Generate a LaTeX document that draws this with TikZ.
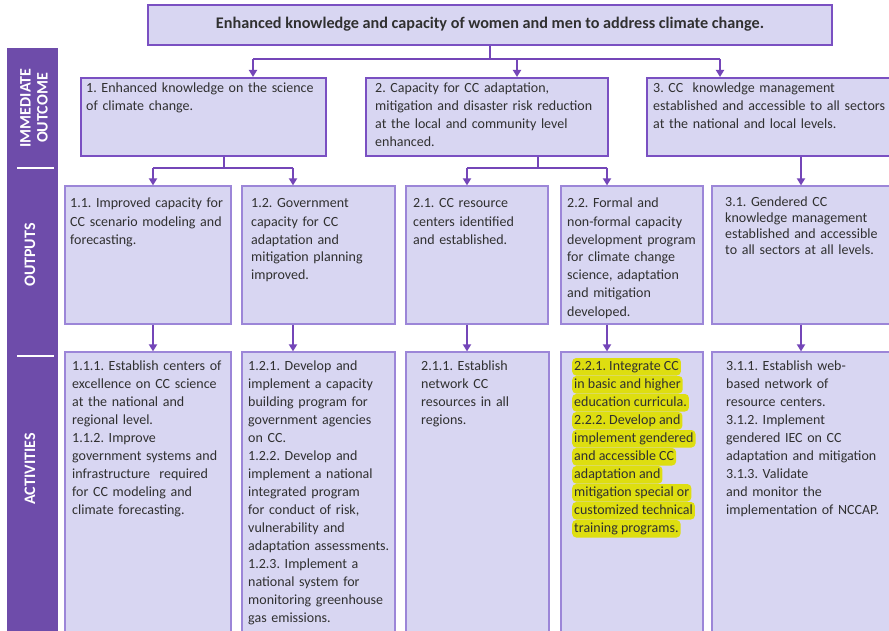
\documentclass[tikz,border=0pt]{standalone}
\usepackage{fontspec}
\setmainfont{Carlito}
\frenchspacing
\usetikzlibrary{fit,arrows.meta}
\definecolor{sidec}{HTML}{6E4CAA}
\definecolor{boxfill}{HTML}{D8D6F2}
\definecolor{obord}{HTML}{7A50C2}
\definecolor{lbord}{HTML}{9C86D8}
\definecolor{connc}{HTML}{7446B8}
\definecolor{txtc}{HTML}{303030}
\definecolor{hly}{HTML}{DEDE10}
\tikzset{
  obox/.style={draw=obord, line width=2pt, fill=boxfill, inner sep=0pt},
  lbox/.style={draw=lbord, line width=1.2pt, fill=boxfill, inner sep=0pt},
  sidebar/.style={fill=sidec, inner sep=0pt},
  txt/.style={text=txtc, inner sep=0pt, anchor=base west, align=left, text width=#1,
    font=\fontsize{14}{18}\selectfont},
  txt/.default=260pt,
  sidetxt/.style={text=white, inner sep=0pt, rotate=90, align=center,
    font=\fontsize{16}{17}\selectfont\bfseries},
  conn/.style={draw=connc, line width=1.8pt},
  arr/.style={conn, -{Triangle[width=8pt,length=7pt]}},
  hl/.style={fill=hly, rounded corners=4pt, inner xsep=2pt, inner ysep=2pt,
    anchor=base west, text=txtc, text height=10pt, text depth=3.5pt,
    font=\fontsize{14}{18}\selectfont},
}
\begin{document}
\begin{tikzpicture}[x=1pt,y=-1pt]
\useasboundingbox (0,0) rectangle (889,631);
\clip (0,0) rectangle (889,631);
\fill[white] (0,0) rectangle (889,631);
% sidebar
\node[sidebar, fit={(7,48) (58,640)}] (side) {};
\draw[white, line width=1.5pt] (17,168) -- (54,168);
\draw[white, line width=1.5pt] (17,356) -- (54,356);
\node[sidetxt] (s1) at (34,108) {IMMEDIATE\\OUTCOME};
\node[sidetxt] (s2) at (30,255) {OUTPUTS};
\node[sidetxt] (s3) at (30,469) {ACTIVITIES};
% boxes
\node[obox, line width=2.5pt, fit={(148,5) (832,45)}] (top) {};
\node[obox, fit={(81,78) (326,156)}] (o1) {};
\node[obox, fit={(366,78) (608,156)}] (o2) {};
\node[obox, fit={(647,78) (895,156)}] (o3) {};
\node[lbox, fit={(65,186) (231,324)}] (p11) {};
\node[lbox, fit={(242,186) (395,324)}] (p12) {};
\node[lbox, fit={(406,186) (548,324)}] (p21) {};
\node[lbox, fit={(561,186) (703,324)}] (p22) {};
\node[lbox, fit={(712,186) (895,324)}] (p31) {};
\node[lbox, fit={(65,352) (231,640)}] (a11) {};
\node[lbox, fit={(242,352) (395,640)}] (a12) {};
\node[lbox, fit={(406,352) (549,640)}] (a21) {};
\node[lbox, fit={(561,352) (703,640)}] (a22) {};
\node[lbox, fit={(712,352) (895,640)}] (a31) {};
% title
\node[text=txtc, font=\fontsize{16.2}{18}\selectfont\bfseries, inner sep=0pt] (ttl) at (490,24)
  {Enhanced knowledge and capacity of women and men to address climate change.};
% texts
\node[txt] (to1) at (86,93) {1. Enhanced knowledge on the science\\of climate change.};
\node[txt] (to2) at (375,93) {2. Capacity for CC adaptation,\\mitigation and disaster risk reduction\\at the local and community level\\enhanced.};
\node[txt] (to3) at (653,93) {3. CC~ knowledge management\\established and accessible to all sectors\\at the national and local levels.};
\node[txt] (tp11) at (70,208) {1.1. Improved capacity for\\CC scenario modeling and\\forecasting.};
\node[txt] (tp12) at (251,208) {1.2. Government\\capacity for CC\\adaptation and\\mitigation planning\\improved.};
\node[txt] (tp21) at (413,208) {2.1. CC resource\\centers identified\\and established.};
\node[txt] (tp22) at (567,208) {2.2. Formal and\\non-formal capacity\\development program\\for climate change\\science, adaptation\\and mitigation\\developed.};
\node[txt, font=\fontsize{14}{16}\selectfont] (tp31) at (725,207) {3.1. Gendered CC\\knowledge management\\established and accessible\\to all sectors at all levels.};
\node[txt] (ta11) at (72,370) {1.1.1. Establish centers of\\excellence on CC science\\at the national and\\regional level.\\1.1.2. Improve\\government systems and\\infrastructure~ required\\for CC modeling and\\climate forecasting.};
\node[txt] (ta12) at (248,370) {1.2.1. Develop and\\implement a capacity\\building program for\\government agencies\\on CC.\\1.2.2. Develop and\\implement a national\\integrated program\\for conduct of risk,\\vulnerability and\\adaptation assessments.\\1.2.3. Implement a\\national system for\\monitoring greenhouse\\gas emissions.};
\node[txt] (ta21) at (421,370) {2.1.1. Establish\\network CC\\resources in all\\regions.};
\foreach \t [count=\i from 0] in {2.2.1. Integrate CC,in basic and higher,education curricula.,2.2.2. Develop and,implement gendered,and accessible CC,adaptation and,mitigation special or,customized technical,training programs.}
  \node[hl] (hl\i) at (572,370+18*\i) {\t};
\node[txt] (ta31) at (726,370) {3.1.1. Establish web-\\based network of\\resource centers.\\3.1.2. Implement\\gendered IEC on CC\\adaptation and mitigation\\3.1.3. Validate\\and monitor the\\implementation of NCCAP.};
% connectors level 1
\coordinate (j0) at (490,59);
\coordinate (jl) at (253,59);
\coordinate (jm) at (517,59);
\coordinate (jr) at (720,59);
\draw[conn] (top.south -| j0) -- (j0);
\draw[conn] (jl) -- (jr);
\draw[arr] (jl) -- (o1.north -| jl);
\draw[arr] (jm) -- (o2.north -| jm);
\draw[arr] (jr) -- (o3.north -| jr);
% connectors level 2
\coordinate (k1) at (224,168);
\coordinate (k1l) at (153,168);
\coordinate (k1r) at (293,168);
\coordinate (k2) at (538,168);
\coordinate (k2l) at (467,168);
\coordinate (k2r) at (607,168);
\coordinate (k3) at (801,168);
\draw[conn] (o1.south -| k1) -- (k1);
\draw[conn] (k1l) -- (k1r);
\draw[arr] (k1l) -- (p11.north -| k1l);
\draw[arr] (k1r) -- (p12.north -| k1r);
\draw[conn] (o2.south -| k2) -- (k2);
\draw[conn] (k2l) -- (k2r);
\draw[arr] (k2l) -- (p21.north -| k2l);
\draw[arr] (k2r) -- (p22.north -| k2r);
\draw[arr] (o3.south -| k3) -- (p31.north -| k3);
% connectors level 3
\draw[arr] (p11.south -| k1l) -- (a11.north -| k1l);
\draw[arr] (p12.south -| k1r) -- (a12.north -| k1r);
\draw[arr] (p21.south -| k2l) -- (a21.north -| k2l);
\draw[arr] (p22.south -| k2r) -- (a22.north -| k2r);
\draw[arr] (p31.south -| k3) -- (a31.north -| k3);
\end{tikzpicture}
\end{document}
